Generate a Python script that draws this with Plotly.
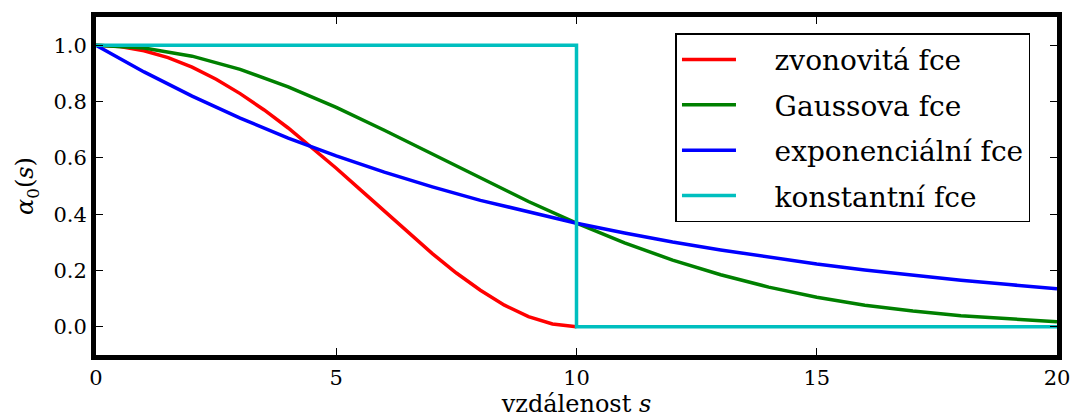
import plotly.graph_objects as go

# Data
s_fine = [0, 0.5, 1, 1.5, 2, 2.5, 3, 3.5, 4, 4.5, 5, 5.5, 6, 6.5, 7, 7.5, 8, 8.5, 9, 9.5, 10]
bell = [1.0, 0.995, 0.980, 0.956, 0.922, 0.879, 0.828, 0.770, 0.706, 0.636, 0.563,
        0.487, 0.410, 0.334, 0.260, 0.191, 0.130, 0.077, 0.036, 0.010, 0.0]

s_int = list(range(0, 21))
gauss = [1.0, 0.990, 0.961, 0.914, 0.852, 0.779, 0.698, 0.613, 0.527, 0.445, 0.368,
         0.298, 0.237, 0.185, 0.141, 0.105, 0.077, 0.056, 0.039, 0.027, 0.018]
expo = [1.0, 0.905, 0.819, 0.741, 0.670, 0.607, 0.549, 0.497, 0.449, 0.407, 0.368,
        0.333, 0.301, 0.273, 0.247, 0.223, 0.202, 0.183, 0.165, 0.150, 0.135]

s_const = [0, 10, 10, 20]
const = [1.0, 1.0, 0.0, 0.0]

names = ["zvonovitá fce", "Gaussova fce", "exponenciální fce", "konstantní fce"]
colors = ["#ff0000", "#008000", "#0000ff", "#00bfbf"]

FONT = "DejaVu Serif, Liberation Serif, serif"

fig = go.Figure()
series = [(s_fine, bell), (s_int, gauss), (s_int, expo), (s_const, const)]
for i, ((xs, ys), name, col) in enumerate(zip(series, names, colors)):
    fig.add_trace(go.Scatter(x=xs, y=ys, mode="lines", name="\u2003\u2009" + name,
                             legendgroup=f"g{i}",
                             line=dict(color=col, width=3.5)))

axis_common = dict(
    showline=True, linecolor="black", linewidth=5, mirror="allticks",
    ticks="inside", ticklen=7, tickwidth=1, tickcolor="black",
    showgrid=False, zeroline=False, automargin=False,
    tickfont=dict(family=FONT, size=21, color="black"),
)

fig.update_xaxes(range=[0, 20], tickvals=[0, 5, 10, 15, 20],
                 title=dict(text="vzdálenost <i>s</i>", standoff=6,
                            font=dict(family=FONT, size=24, color="black")),
                 **axis_common)
fig.update_yaxes(range=[-0.1, 1.1], tickvals=[0, 0.2, 0.4, 0.6, 0.8, 1.0],
                 tickformat=".1f",
                 title=dict(text="<i>α</i><sub>0</sub>(<i>s</i>)", standoff=14,
                            font=dict(family=FONT, size=24, color="black")),
                 **axis_common)

fig.update_layout(
    width=1072, height=419,
    margin=dict(l=95.5, r=15, t=16.5, b=63.5),
    paper_bgcolor="white", plot_bgcolor="white",
    legend=dict(x=0.603, y=0.952, xanchor="left", yanchor="top",
                bgcolor="white", bordercolor="black", borderwidth=1.5,
                font=dict(family=FONT, size=28, color="black"),
                itemwidth=54, tracegroupgap=6),
)

fig.write_html("out.html")
